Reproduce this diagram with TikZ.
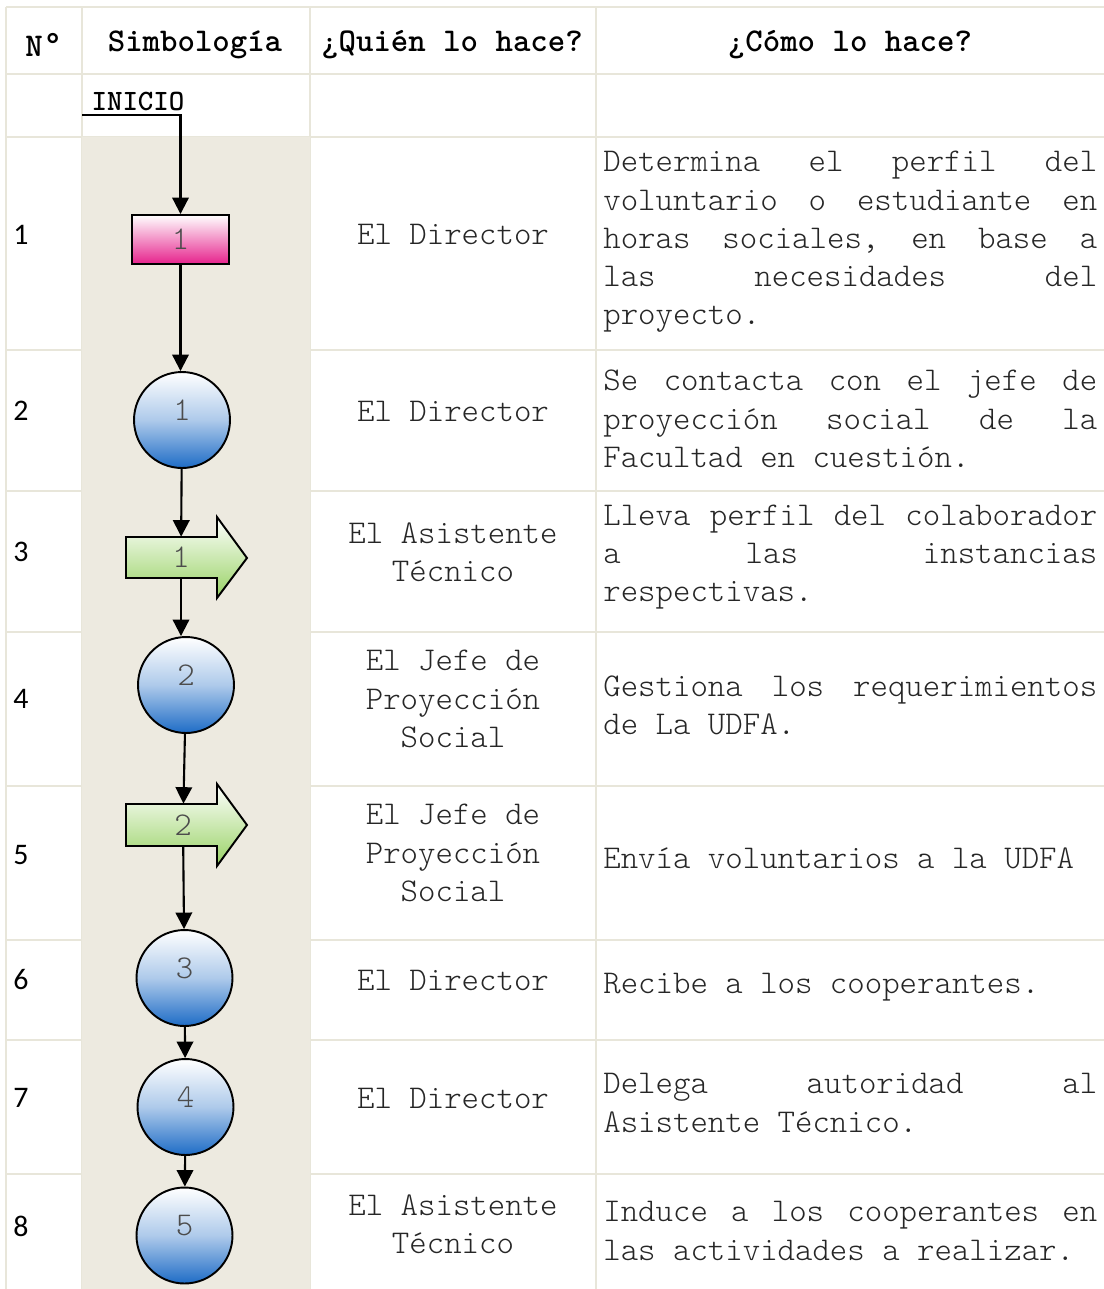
\documentclass[tikz,border=0pt]{standalone}
\usepackage{fontspec}
\setmainfont{lmmonolt10-regular}[Extension=.otf, BoldFont=lmmonolt10-bold]
\newfontfamily\numfont{Carlito}
\newfontfamily\degfont{Liberation Mono}
\usetikzlibrary{arrows.meta}
\setlength{\parindent}{0pt}

\definecolor{gridline}{RGB}{232,230,218}
\definecolor{sand}{RGB}{237,234,224}
\definecolor{procblue}{RGB}{30,108,198}
\definecolor{procpink}{RGB}{230,34,140}
\definecolor{procgreen}{RGB}{152,210,100}

\begin{document}
\begin{tikzpicture}[x=0.02cm, y=-0.02cm,
        flow/.style = {-{Triangle[length=3.3mm, width=3.3mm]}, line width=1.2pt},%
        txt/.style = {font=\fontsize{18.9}{21.8}\selectfont, text=black!85},
        head/.style = {font=\fontsize{18.9}{21.8}\selectfont\bfseries},
        num/.style = {font=\numfont\fontsize{17}{20}\selectfont},
        who/.style = {txt, align=center, inner sep=0pt},
        how/.style = {txt, anchor=west, text width=9.88cm, align=justify, inner sep=0pt},
        act/.style = {circle, draw, line width=1.1pt, minimum size=1.92cm, top color=white, bottom color=procblue, middle color=procblue!36!white, txt, text=black!70, text depth=0.4cm},
        move/.style = {top color=white, bottom color=procgreen, line width=1.1pt}
    ]
    \useasboundingbox (0,0) rectangle (1104,1289);

    % table
    \foreach \y in {7,74,137,350,491,632,786,940,1040,1174}
        \draw[gridline, line width=0.8pt] (6,\y) -- (1104,\y);
    \foreach \x in {6,82,310,596}
        \draw[gridline, line width=0.8pt] (\x,7) -- (\x,1289);
    \fill[sand] (82,137) rectangle (310,1289);

    \node[head] (hnum) at (44,45) {N{\degfont\bfseries°}};
    \node[head] (hsym) at (195,45) {Simbología};
    \node[head] (hwho) at (452,45) {¿Quién lo hace?};
    \node[head] (hhow) at (850,45) {¿Cómo lo hace?};

    % flow symbols
    \node[font=\fontsize{16.8}{18}\selectfont\bfseries] (start) at (138,101) {INICIO};
    \coordinate (s0) at (82,115);
    \node[draw, line width=1.1pt, minimum width=1.94cm, minimum height=0.98cm, top color=white, bottom color=procpink, txt, text=black!70] (task1) at (180.5,239.5) {1};
    \node[act] (act1) at (182,420) {1};
    \shadedraw[move] (126,537) -- (217,537) -- (217,517) -- (247,558) -- (217,598) -- (217,578) -- (126,578) -- cycle;
    \node[txt, text=black!70, minimum height=0.82cm, inner sep=0pt] (move1) at (181,557.5) {1};
    \node[act] (act2) at (186,685) {2};
    \shadedraw[move] (126,804) -- (217,804) -- (217,784) -- (247,825) -- (217,866) -- (217,846) -- (126,846) -- cycle;
    \node[txt, text=black!70, minimum height=0.84cm, inner sep=0pt] (move2) at (183,825) {2};
    \node[act] (act3) at (184.5,978) {3};
    \node[act] (act4) at (185.5,1107) {4};
    \node[act] (act5) at (184.5,1235.5) {5};

    \draw[flow] (s0) -| (task1);
    \draw[flow] (task1.south) -- (task1.south |- act1.north);
    \draw[flow] (act1) -- (move1);
    \draw[flow] (move1.south) -- (move1.south |- act2.north);
    \draw[flow] (act2) -- (move2);
    \draw[flow] (move2) -- (act3);
    \draw[flow] (act3) -- (act4);
    \draw[flow] (act4) -- (act5);

    % step numbers
    \node[num] (n1) at (21,235) {1};
    \node[num] (n2) at (21,411) {2};
    \node[num] (n3) at (21,552) {3};
    \node[num] (n4) at (21,699) {4};
    \node[num] (n5) at (21,855) {5};
    \node[num] (n6) at (21,980) {6};
    \node[num] (n7) at (21,1098) {7};
    \node[num] (n8) at (21,1226) {8};

    % who
    \node[who] (who1) at (453,234) {El Director};
    \node[who] (who2) at (453,411) {El Director};
    \node[who] (who3) at (453,552) {El Asistente\\Técnico};
    \node[who] (who4) at (453,699) {El Jefe de\\Proyección\\Social};
    \node[who] (who5) at (453,853) {El Jefe de\\Proyección\\Social};
    \node[who] (who6) at (453,980) {El Director};
    \node[who] (who7) at (453,1098) {El Director};
    \node[who] (who8) at (453,1224) {El Asistente\\Técnico};

    % how
    \node[how] (how1) at (603,242) {Determina\hfill el\hfill perfil\hfill del\\ voluntario\hfill o\hfill estudiante\hfill en\\ horas\hfill sociales,\hfill en\hfill base\hfill a\\ las\hfill necesidades\hfill del\\ proyecto.};
    \node[how] (how2) at (603,419) {Se\hfill contacta\hfill con\hfill el\hfill jefe\hfill de\\ proyección\hfill social\hfill de\hfill la\\ Facultad en cuestión.};
    \node[how] (how3) at (603,557) {Lleva\hfill perfil\hfill del\hfill colaborador\\ a\hfill las\hfill instancias\\ respectivas.};
    \node[how] (how4) at (603,705) {Gestiona\hfill los\hfill requerimientos\\ de La UDFA.};
    \node[how] (how5) at (603,858) {Envía voluntarios a la UDFA};
    \node[how] (how6) at (603,987) {Recibe a los cooperantes.};
    \node[how] (how7) at (603,1103) {Delega\hfill autoridad\hfill al\\ Asistente Técnico.};
    \node[how] (how8) at (603,1231) {Induce\hfill a\hfill los\hfill cooperantes\hfill en\\ las actividades a realizar.};
\end{tikzpicture}
\end{document}
